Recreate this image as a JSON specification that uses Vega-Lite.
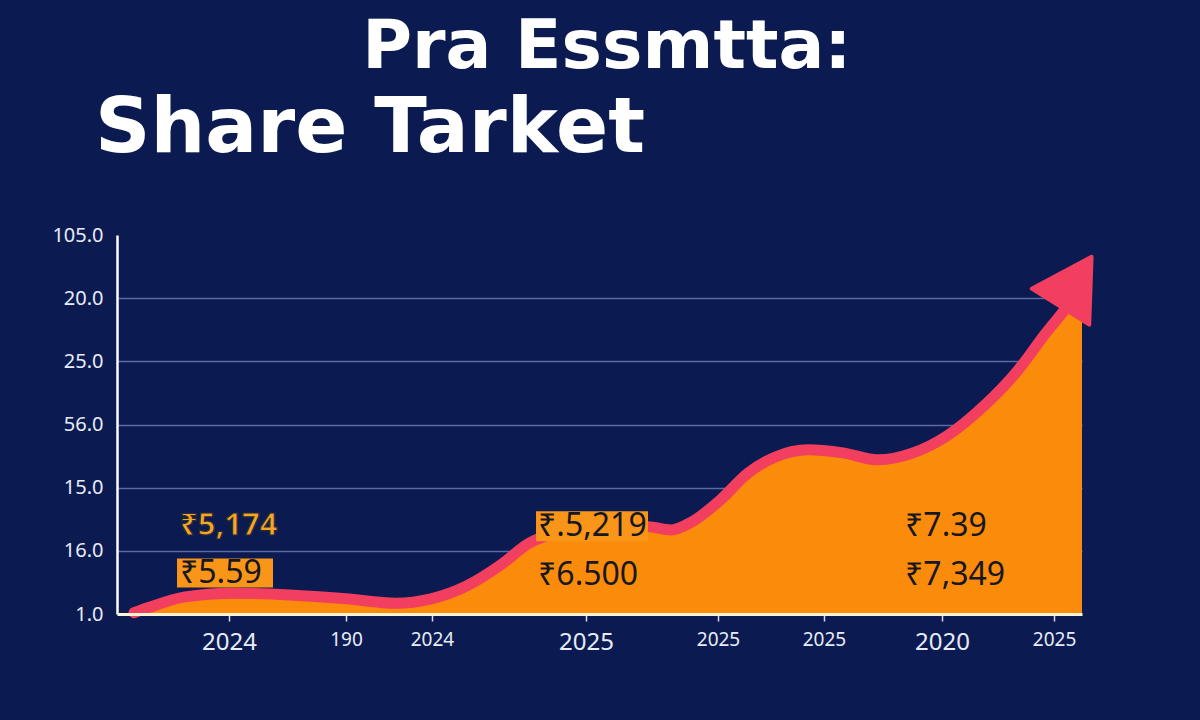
{
  "$schema": "https://vega.github.io/schema/vega-lite/v6.json",
  "autosize": "none",
  "width": 965,
  "height": 379,
  "padding": {"left": 117, "top": 235, "right": 118, "bottom": 106},
  "background": "#0b1b51",
  "config": {"view": {"stroke": null}},
  "title": {
    "text": "\u200b\u00a0\u00a0\u00a0\u00a0\u00a0\u00a0\u00a0\u00a0\u00a0\u00a0\u00a0\u200aPra Essmtta:",
    "subtitle": "Share Tarket",
    "anchor": "start",
    "frame": "group",
    "dx": -22,
    "font": "DejaVu Sans",
    "fontSize": 68,
    "fontWeight": "bold",
    "color": "#ffffff",
    "subtitleFont": "DejaVu Sans",
    "subtitleFontSize": 77,
    "subtitleFontWeight": "bold",
    "subtitleColor": "#ffffff",
    "subtitlePadding": 9,
    "offset": 58
  },
  "datasets": {
    "curve": [
      {"t": 1.76, "v": 0.02}, {"t": 3.42, "v": 0.11}, {"t": 7.05, "v": 0.27}, {"t": 11.81, "v": 0.33},
      {"t": 17.93, "v": 0.30}, {"t": 23.73, "v": 0.24}, {"t": 28.91, "v": 0.17}, {"t": 32.54, "v": 0.24},
      {"t": 36.17, "v": 0.44}, {"t": 39.79, "v": 0.78}, {"t": 42.69, "v": 1.12}, {"t": 45.91, "v": 1.30},
      {"t": 50.05, "v": 1.38}, {"t": 55.03, "v": 1.38}, {"t": 57.41, "v": 1.33}, {"t": 59.59, "v": 1.46},
      {"t": 62.49, "v": 1.80}, {"t": 65.39, "v": 2.23}, {"t": 68.29, "v": 2.49}, {"t": 71.61, "v": 2.60},
      {"t": 75.23, "v": 2.55}, {"t": 78.86, "v": 2.44}, {"t": 82.49, "v": 2.55}, {"t": 86.11, "v": 2.83},
      {"t": 89.74, "v": 3.28}, {"t": 93.37, "v": 3.86}, {"t": 96.27, "v": 4.45}, {"t": 98.45, "v": 4.86},
      {"t": 100, "v": 5.16}
    ],
    "arrow": [{"t": 99.38, "v": 5.26}],
    "labels": [
      {"t": 6.53, "v": 1.39, "label": "₹5,174"},
      {"t": 6.53, "v": 0.65, "label": "₹5.59"},
      {"t": 43.63, "v": 1.39, "label": "₹.5,219"},
      {"t": 43.63, "v": 0.62, "label": "₹6.500"},
      {"t": 81.66, "v": 1.39, "label": "₹7.39"},
      {"t": 81.66, "v": 0.62, "label": "₹7,349"}
    ]
  },
  "encoding": {
    "x": {
      "field": "t", "type": "quantitative",
      "scale": {"domain": [0, 100], "nice": false, "zero": false},
      "axis": {
        "title": null,
        "grid": false,
        "values": [11.61, 23.73, 32.64, 48.6, 62.28, 73.26, 85.49, 97.1],
        "labelExpr": "datum.value < 15 ? '2024' : datum.value < 28 ? '190' : datum.value < 40 ? '2024' : datum.value < 80 ? '2025' : datum.value < 90 ? '2020' : '2025'",
        "labelFontSize": {"condition": {"test": "datum.value < 15 || (datum.value > 45 && datum.value < 55) || (datum.value > 80 && datum.value < 90)", "value": 24}, "value": 19},
        "labelFont": "Noto Sans",
        "labelColor": "#e8ecf7",
        "labelPadding": 9,
        "labelOverlap": false,
        "labelFlush": false,
        "labelBound": false,
        "domainColor": "#fff3d6",
        "domainWidth": 3,
        "tickColor": "#d8deef",
        "tickSize": 7,
        "tickWidth": 1.5,
        "zindex": 1
      }
    },
    "y": {
      "field": "v", "type": "quantitative",
      "scale": {"domain": [0, 6], "nice": false, "zero": false},
      "axis": {
        "title": null,
        "values": [0, 1, 2, 3, 4, 5, 6],
        "labelExpr": "['1.0','16.0','15.0','56.0','25.0','20.0','105.0'][datum.value]",
        "labelFont": "Noto Sans",
        "labelFontSize": 20,
        "labelColor": "#e8ecf7",
        "labelPadding": 14,
        "ticks": false,
        "grid": true,
        "gridColor": "#7886bd",
        "gridWidth": 1.3,
        "gridOpacity": {"condition": {"test": "datum.value == 0 || datum.value == 6", "value": 0}, "value": 0.75},
        "domainColor": "#ffffff",
        "domainWidth": 2.5,
        "zindex": 0
      }
    }
  },
  "layer": [
    {"data": {"name": "curve"}, "mark": {"type": "area", "interpolate": "monotone", "color": "#fb8c0b"}},
    {"data": {"name": "curve"}, "mark": {"type": "line", "interpolate": "monotone", "color": "#f23e5f", "strokeWidth": 11, "strokeCap": "round"}},
    {"data": {"name": "arrow"}, "mark": {"type": "point", "shape": "triangle-up", "angle": 32, "size": 4600, "filled": true, "opacity": 1, "color": "#f23e5f", "stroke": "#f23e5f", "strokeWidth": 4, "strokeJoin": "round"}},
    {"data": {"name": "labels"}, "transform": [{"filter": "datum.label === '₹5.59'"}],
     "mark": {"type": "point", "shape": "M-0.06,-0.29H1.86V0.29H-0.06Z", "size": 10000, "filled": true, "opacity": 1, "color": "#f9961a", "strokeWidth": 0}},
    {"data": {"name": "labels"}, "transform": [{"filter": "datum.label === '₹.5,219'"}],
     "mark": {"type": "point", "shape": "M-0.04,-0.3H2.2V0.3H-0.04Z", "size": 10000, "filled": true, "opacity": 1, "color": "#f9961a", "strokeWidth": 0}},
    {"data": {"name": "labels"}, "transform": [{"filter": "datum.label !== '₹5,174'"}],
     "mark": {"type": "text", "align": "left", "baseline": "middle", "font": "Noto Sans", "fontSize": 32, "color": "#17171f"},
     "encoding": {"text": {"field": "label"}}},
    {"data": {"name": "labels"}, "transform": [{"filter": "datum.label === '₹5,174'"}],
     "mark": {"type": "text", "align": "left", "baseline": "middle", "font": "Noto Sans", "fontSize": 31, "fontWeight": "bold", "fill": "#f6a623", "stroke": "#2a2a35", "strokeWidth": 1.2},
     "encoding": {"text": {"field": "label"}}}
  ]
}
